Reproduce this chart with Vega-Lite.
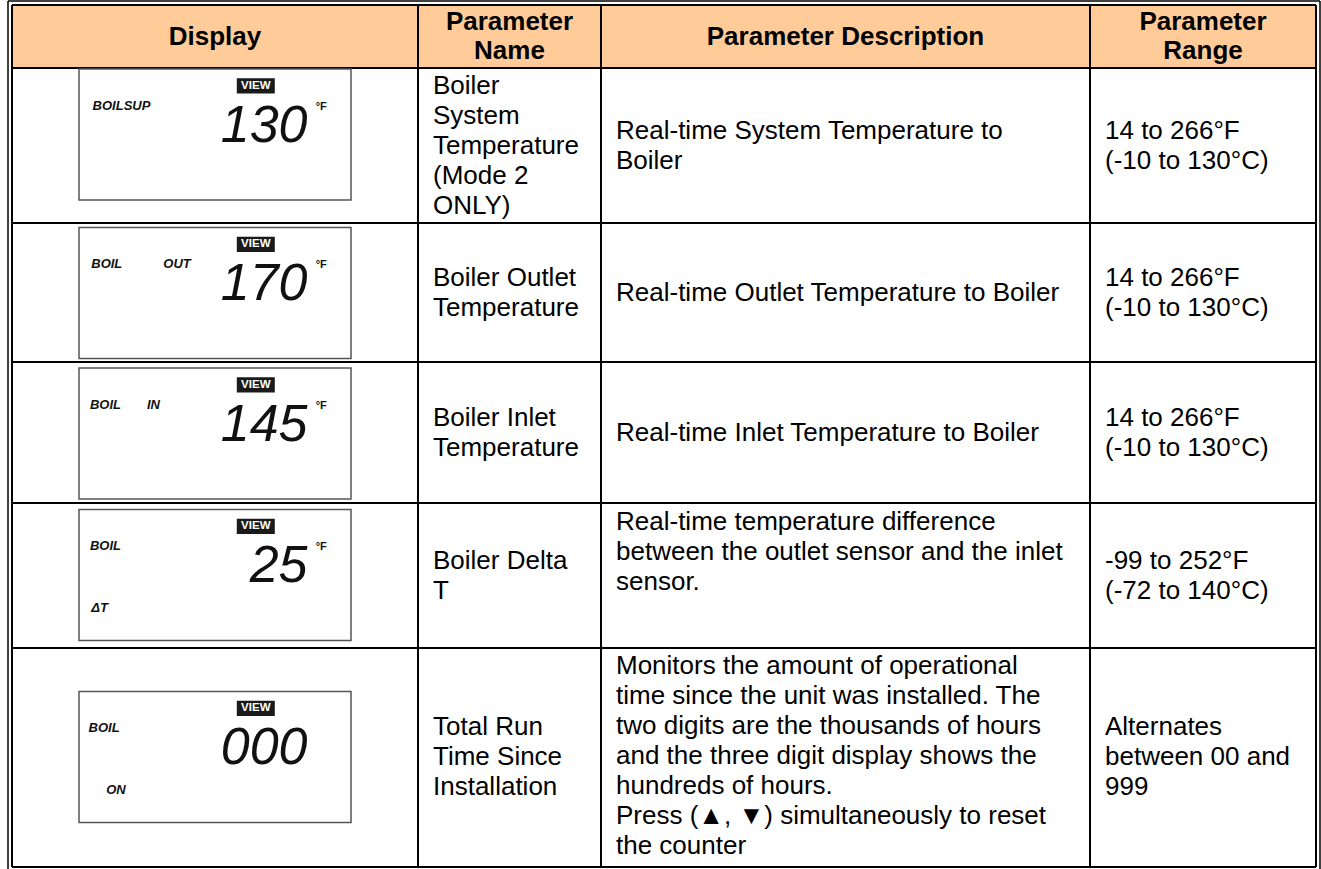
{
  "$schema": "https://vega.github.io/schema/vega-lite/v6.json",
  "width": 1321,
  "height": 869,
  "autosize": {"type": "none"},
  "padding": 0,
  "background": "white",
  "config": {"view": {"stroke": null}, "axis": {"disable": true}},
  "resolve": {"scale": {"x": "independent", "y": "independent"}},
  "datasets": {
    "header": [
      {"col": 0, "label": "Display"},
      {"col": 1, "label": "Parameter\nName"},
      {"col": 2, "label": "Parameter Description"},
      {"col": 3, "label": "Parameter\nRange"}
    ],
    "cells": [
      {"row": 1, "col": 1, "text": "Boiler\nSystem\nTemperature\n(Mode 2\nONLY)"},
      {"row": 1, "col": 2, "text": "Real-time System Temperature to\nBoiler"},
      {"row": 1, "col": 3, "text": "14 to 266°F\n(-10 to 130°C)"},
      {"row": 2, "col": 1, "text": "Boiler Outlet\nTemperature"},
      {"row": 2, "col": 2, "text": "Real-time Outlet Temperature to Boiler"},
      {"row": 2, "col": 3, "text": "14 to 266°F\n(-10 to 130°C)"},
      {"row": 3, "col": 1, "text": "Boiler Inlet\nTemperature"},
      {"row": 3, "col": 2, "text": "Real-time Inlet Temperature to Boiler"},
      {"row": 3, "col": 3, "text": "14 to 266°F\n(-10 to 130°C)"},
      {"row": 4, "col": 1, "text": "Boiler Delta\nT"},
      {"row": 4, "col": 2, "text": "Real-time temperature difference\nbetween the outlet sensor and the inlet\nsensor."},
      {"row": 4, "col": 3, "text": "-99 to 252°F\n(-72 to 140°C)"},
      {"row": 5, "col": 1, "text": "Total Run\nTime Since\nInstallation"},
      {"row": 5, "col": 2, "text": "Monitors the amount of operational\ntime since the unit was installed. The\ntwo digits are the thousands of hours\nand the three digit display shows the\nhundreds of hours.\nPress (▲, ▼) simultaneously to reset\nthe counter"},
      {"row": 5, "col": 3, "text": "Alternates\nbetween 00 and\n999"}
    ],
    "panels": [
      {"row": 1, "reading": "130", "unit": "°F"},
      {"row": 2, "reading": "170", "unit": "°F"},
      {"row": 3, "reading": "145", "unit": "°F"},
      {"row": 4, "reading": "25", "unit": "°F"},
      {"row": 5, "reading": "000", "unit": ""}
    ],
    "labels": [
      {"row": 1, "label": "BOILSUP", "slot": "upper", "px": 5},
      {"row": 2, "label": "BOIL", "slot": "upper", "px": 4.5},
      {"row": 2, "label": "OUT", "slot": "upper", "px": 31},
      {"row": 3, "label": "BOIL", "slot": "upper", "px": 4},
      {"row": 3, "label": "IN", "slot": "upper", "px": 25},
      {"row": 4, "label": "BOIL", "slot": "upper", "px": 4},
      {"row": 4, "label": "ΔT", "slot": "lower", "px": 4.5},
      {"row": 5, "label": "BOIL", "slot": "upper", "px": 3.5},
      {"row": 5, "label": "ON", "slot": "lower", "px": 10}
    ]
  },
  "layer": [
    {
      "data": {"values": [{"c0": 0, "c1": 4, "r0": 0, "r1": 1}]},
      "mark": {"type": "rect", "fill": "#FFCC99"},
      "encoding": {
        "x": {"field": "c0", "type": "quantitative", "axis": null, "scale": {"domain": [0, 1, 2, 3, 4], "range": [12, 418, 601, 1090, 1316], "zero": false, "nice": false}},
        "x2": {"field": "c1"},
        "y": {"field": "r0", "type": "quantitative", "axis": null, "scale": {"domain": [0, 1, 2, 3, 4, 5, 6], "range": [5, 68, 223, 362, 503, 648, 867], "zero": false, "nice": false}},
        "y2": {"field": "r1"}
      }
    },
    {
      "data": {"values": [{"b": 0}, {"b": 1}, {"b": 2}, {"b": 3}, {"b": 4}]},
      "mark": {"type": "rule", "color": "black", "strokeWidth": 2},
      "encoding": {
        "x": {"field": "b", "type": "quantitative", "axis": null, "scale": {"domain": [0, 1, 2, 3, 4], "range": [12, 418, 601, 1090, 1316], "zero": false, "nice": false}},
        "y": {"datum": 0, "type": "quantitative", "axis": null, "scale": {"domain": [0, 1, 2, 3, 4, 5, 6], "range": [5, 68, 223, 362, 503, 648, 867], "zero": false, "nice": false}},
        "y2": {"datum": 6}
      }
    },
    {
      "data": {"values": [{"b": 0}, {"b": 1}, {"b": 2}, {"b": 3}, {"b": 4}, {"b": 5}, {"b": 6}]},
      "mark": {"type": "rule", "color": "black", "strokeWidth": 2},
      "encoding": {
        "y": {"field": "b", "type": "quantitative", "axis": null, "scale": {"domain": [0, 1, 2, 3, 4, 5, 6], "range": [5, 68, 223, 362, 503, 648, 867], "zero": false, "nice": false}},
        "x": {"datum": 0, "type": "quantitative", "axis": null, "scale": {"domain": [0, 1, 2, 3, 4], "range": [12, 418, 601, 1090, 1316], "zero": false, "nice": false}},
        "x2": {"datum": 4}
      }
    },
    {
      "data": {"values": [{"b": 0}]},
      "mark": {"type": "rule", "color": "black", "strokeWidth": 1.5, "xOffset": -4, "yOffset": -4, "y2Offset": 6},
      "encoding": {
        "x": {"field": "b", "type": "quantitative", "axis": null, "scale": {"domain": [0, 1, 2, 3, 4], "range": [12, 418, 601, 1090, 1316], "zero": false, "nice": false}},
        "y": {"datum": 0, "type": "quantitative", "axis": null, "scale": {"domain": [0, 1, 2, 3, 4, 5, 6], "range": [5, 68, 223, 362, 503, 648, 867], "zero": false, "nice": false}},
        "y2": {"datum": 6}
      }
    },
    {
      "data": {"values": [{"b": 4}]},
      "mark": {"type": "rule", "color": "black", "strokeWidth": 1.5, "xOffset": 4, "yOffset": -4, "y2Offset": 6},
      "encoding": {
        "x": {"field": "b", "type": "quantitative", "axis": null, "scale": {"domain": [0, 1, 2, 3, 4], "range": [12, 418, 601, 1090, 1316], "zero": false, "nice": false}},
        "y": {"datum": 0, "type": "quantitative", "axis": null, "scale": {"domain": [0, 1, 2, 3, 4, 5, 6], "range": [5, 68, 223, 362, 503, 648, 867], "zero": false, "nice": false}},
        "y2": {"datum": 6}
      }
    },
    {
      "data": {"values": [{"b": 0}]},
      "mark": {"type": "rule", "color": "black", "strokeWidth": 1.5, "yOffset": -4, "xOffset": -4, "x2Offset": 4},
      "encoding": {
        "y": {"field": "b", "type": "quantitative", "axis": null, "scale": {"domain": [0, 1, 2, 3, 4, 5, 6], "range": [5, 68, 223, 362, 503, 648, 867], "zero": false, "nice": false}},
        "x": {"datum": 0, "type": "quantitative", "axis": null, "scale": {"domain": [0, 1, 2, 3, 4], "range": [12, 418, 601, 1090, 1316], "zero": false, "nice": false}},
        "x2": {"datum": 4}
      }
    },
    {
      "data": {"name": "header"},
      "mark": {"type": "text", "font": "Liberation Sans", "fontSize": 26, "fontWeight": "bold", "align": "center", "baseline": "line-top", "lineHeight": 29, "lineBreak": "\n", "color": "black"},
      "encoding": {
        "x": {"field": "col", "type": "quantitative", "axis": null, "scale": {"domain": [0, 1, 2, 3], "range": [215, 509.5, 845.5, 1203], "zero": false, "nice": false}},
        "y": {"field": "col", "type": "quantitative", "axis": null, "scale": {"domain": [0, 1, 2, 3], "range": [22.5, 8, 22.5, 8], "zero": false, "nice": false}},
        "text": {"field": "label"}
      }
    },
    {
      "data": {"name": "cells"},
      "transform": [{"filter": "datum.col == 1"}],
      "mark": {"type": "text", "font": "Liberation Sans", "fontSize": 26, "align": "left", "baseline": "line-top", "dx": 15, "lineHeight": 30, "lineBreak": "\n", "color": "black"},
      "encoding": {
        "x": {"field": "col", "type": "quantitative", "axis": null, "scale": {"domain": [0, 1, 2, 3, 4], "range": [12, 418, 601, 1090, 1316], "zero": false, "nice": false}},
        "y": {"field": "row", "type": "quantitative", "axis": null, "scale": {"domain": [1, 2, 3, 4, 5], "range": [70.5, 262.5, 402.5, 545.5, 712], "zero": false, "nice": false}},
        "text": {"field": "text"}
      }
    },
    {
      "data": {"name": "cells"},
      "transform": [{"filter": "datum.col == 2"}],
      "mark": {"type": "text", "font": "Liberation Sans", "fontSize": 26, "align": "left", "baseline": "line-top", "dx": 15, "lineHeight": 30, "lineBreak": "\n", "color": "black"},
      "encoding": {
        "x": {"field": "col", "type": "quantitative", "axis": null, "scale": {"domain": [0, 1, 2, 3, 4], "range": [12, 418, 601, 1090, 1316], "zero": false, "nice": false}},
        "y": {"field": "row", "type": "quantitative", "axis": null, "scale": {"domain": [1, 2, 3, 4, 5], "range": [115.5, 277.5, 417.5, 507, 651], "zero": false, "nice": false}},
        "text": {"field": "text"}
      }
    },
    {
      "data": {"name": "cells"},
      "transform": [{"filter": "datum.col == 3"}],
      "mark": {"type": "text", "font": "Liberation Sans", "fontSize": 26, "align": "left", "baseline": "line-top", "dx": 15, "lineHeight": 30, "lineBreak": "\n", "color": "black"},
      "encoding": {
        "x": {"field": "col", "type": "quantitative", "axis": null, "scale": {"domain": [0, 1, 2, 3, 4], "range": [12, 418, 601, 1090, 1316], "zero": false, "nice": false}},
        "y": {"field": "row", "type": "quantitative", "axis": null, "scale": {"domain": [1, 2, 3, 4, 5], "range": [115.5, 262.5, 402.5, 545.5, 712], "zero": false, "nice": false}},
        "text": {"field": "text"}
      }
    },
    {
      "data": {"name": "panels"},
      "mark": {"type": "point", "shape": "M-1,-0.4816H1V0.4816H-1Z", "size": 73984, "filled": false, "stroke": "#555555", "strokeWidth": 1.5, "opacity": 1},
      "encoding": {
        "x": {"datum": 50, "type": "quantitative", "axis": null, "scale": {"domain": [0, 100], "range": [79, 351], "zero": false, "nice": false}},
        "y": {"field": "row", "type": "quantitative", "axis": null, "scale": {"domain": [1, 2, 3, 4, 5], "range": [134.5, 293, 433.5, 575, 757], "zero": false, "nice": false}}
      }
    },
    {
      "data": {"name": "panels"},
      "mark": {"type": "point", "shape": "M-1,-0.4H1V0.4H-1Z", "size": 1444, "filled": true, "fill": "#1a1a1a", "strokeWidth": 0, "opacity": 1},
      "encoding": {
        "x": {"datum": 65, "type": "quantitative", "axis": null, "scale": {"domain": [0, 100], "range": [79, 351], "zero": false, "nice": false}},
        "y": {"field": "row", "type": "quantitative", "axis": null, "scale": {"domain": [1, 2, 3, 4, 5], "range": [134.5, 293, 433.5, 575, 757], "zero": false, "nice": false}},
        "yOffset": {"datum": 13.5, "type": "quantitative", "scale": {"domain": [0, 100], "range": [-66.5, 66.5], "zero": false, "nice": false}}
      }
    },
    {
      "data": {"name": "panels"},
      "mark": {"type": "text", "font": "Liberation Sans", "fontSize": 11.5, "fontWeight": "bold", "align": "center", "baseline": "middle", "color": "white"},
      "encoding": {
        "x": {"datum": 65, "type": "quantitative", "axis": null, "scale": {"domain": [0, 100], "range": [79, 351], "zero": false, "nice": false}},
        "y": {"field": "row", "type": "quantitative", "axis": null, "scale": {"domain": [1, 2, 3, 4, 5], "range": [134.5, 293, 433.5, 575, 757], "zero": false, "nice": false}},
        "yOffset": {"datum": 13.5, "type": "quantitative", "scale": {"domain": [0, 100], "range": [-66.5, 66.5], "zero": false, "nice": false}},
        "text": {"value": "VIEW"}
      }
    },
    {
      "data": {"name": "panels"},
      "mark": {"type": "text", "font": "Liberation Sans", "fontSize": 52, "fontStyle": "italic", "align": "right", "baseline": "middle", "color": "#111111"},
      "encoding": {
        "x": {"datum": 84, "type": "quantitative", "axis": null, "scale": {"domain": [0, 100], "range": [79, 351], "zero": false, "nice": false}},
        "y": {"field": "row", "type": "quantitative", "axis": null, "scale": {"domain": [1, 2, 3, 4, 5], "range": [134.5, 293, 433.5, 575, 757], "zero": false, "nice": false}},
        "yOffset": {"datum": 43.5, "type": "quantitative", "scale": {"domain": [0, 100], "range": [-66.5, 66.5], "zero": false, "nice": false}},
        "text": {"field": "reading"}
      }
    },
    {
      "data": {"name": "panels"},
      "mark": {"type": "text", "font": "Liberation Sans", "fontSize": 11, "fontWeight": "bold", "align": "left", "baseline": "middle", "color": "#111111"},
      "encoding": {
        "x": {"datum": 87, "type": "quantitative", "axis": null, "scale": {"domain": [0, 100], "range": [79, 351], "zero": false, "nice": false}},
        "y": {"field": "row", "type": "quantitative", "axis": null, "scale": {"domain": [1, 2, 3, 4, 5], "range": [134.5, 293, 433.5, 575, 757], "zero": false, "nice": false}},
        "yOffset": {"datum": 29, "type": "quantitative", "scale": {"domain": [0, 100], "range": [-66.5, 66.5], "zero": false, "nice": false}},
        "text": {"field": "unit"}
      }
    },
    {
      "data": {"name": "labels"},
      "transform": [{"filter": "datum.slot == 'upper'"}],
      "mark": {"type": "text", "font": "Liberation Sans", "fontSize": 13, "fontWeight": "bold", "fontStyle": "italic", "align": "left", "baseline": "middle", "color": "#111111"},
      "encoding": {
        "x": {"field": "px", "type": "quantitative", "axis": null, "scale": {"domain": [0, 100], "range": [79, 351], "zero": false, "nice": false}},
        "y": {"field": "row", "type": "quantitative", "axis": null, "scale": {"domain": [1, 2, 3, 4, 5], "range": [134.5, 293, 433.5, 575, 757], "zero": false, "nice": false}},
        "yOffset": {"datum": 28.5, "type": "quantitative", "scale": {"domain": [0, 100], "range": [-66.5, 66.5], "zero": false, "nice": false}},
        "text": {"field": "label"}
      }
    },
    {
      "data": {"name": "labels"},
      "transform": [{"filter": "datum.slot == 'lower'"}],
      "mark": {"type": "text", "font": "Liberation Sans", "fontSize": 13, "fontWeight": "bold", "fontStyle": "italic", "align": "left", "baseline": "middle", "color": "#111111"},
      "encoding": {
        "x": {"field": "px", "type": "quantitative", "axis": null, "scale": {"domain": [0, 100], "range": [79, 351], "zero": false, "nice": false}},
        "y": {"field": "row", "type": "quantitative", "axis": null, "scale": {"domain": [1, 2, 3, 4, 5], "range": [134.5, 293, 433.5, 575, 757], "zero": false, "nice": false}},
        "yOffset": {"datum": 74.5, "type": "quantitative", "scale": {"domain": [0, 100], "range": [-66.5, 66.5], "zero": false, "nice": false}},
        "text": {"field": "label"}
      }
    }
  ]
}
